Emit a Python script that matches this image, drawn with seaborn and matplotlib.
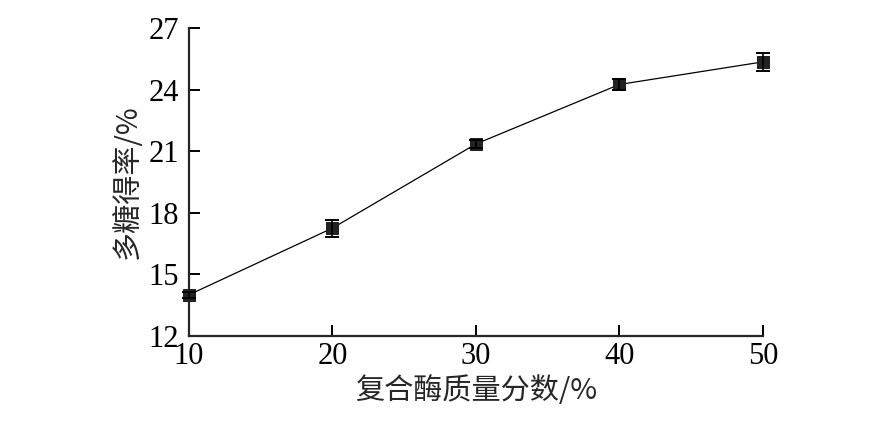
import pandas as pd
import matplotlib
matplotlib.use("Agg")
import matplotlib.pyplot as plt
import seaborn as sns

# data
enzyme = [10, 20, 30, 40, 50]
yield_pct = [14.0, 17.25, 21.35, 24.25, 25.35]
yield_err = [0.15, 0.42, 0.2, 0.25, 0.45]
y_ticks = [12, 15, 18, 21, 24, 27]

df = pd.DataFrame({"enzyme": enzyme, "yield": yield_pct, "err": yield_err})

sns.set_style("ticks")
plt.rcParams['font.family'] = ['Liberation Serif', 'Noto Sans CJK SC']
plt.rcParams['axes.linewidth'] = 1.6

fig = plt.figure(figsize=(8.74, 4.21), dpi=100)
ax = fig.add_axes([0.216, 0.202, 0.657, 0.7315])

sns.lineplot(data=df, x="enzyme", y="yield", ax=ax, color='black',
             linewidth=0.9, marker='s', markersize=8.5,
             markerfacecolor='#222222', markeredgecolor='#222222',
             zorder=3, clip_on=False)
eb = ax.errorbar(df["enzyme"], df["yield"], yerr=df["err"], fmt='none',
                 ecolor='black', elinewidth=1.2, capsize=5, capthick=1.4, zorder=4)
for art in eb.lines[1] + eb.lines[2]:
    art.set_clip_on(False)

ax.set_xlim(10, 50)
ax.set_ylim(12, 27)
ax.set_xticks(enzyme)
ax.set_yticks(y_ticks)
ax.tick_params(direction='in', length=8, width=1.4, labelsize=22, colors='black')
ax.tick_params(axis='x', pad=4)
ax.tick_params(axis='y', pad=7)
sns.despine(ax=ax)

ax.set_xlabel("复合酶质量分数/%", fontsize=21, family=['Noto Sans CJK SC', 'Liberation Serif'], labelpad=4)
ax.set_ylabel("多糖得率/%", fontsize=21, family=['Noto Sans CJK SC', 'Liberation Serif'], labelpad=4)
for lab in ax.get_xticklabels() + ax.get_yticklabels():
    lab.set_family('Liberation Serif')

fig.savefig("out.png", dpi=100)
